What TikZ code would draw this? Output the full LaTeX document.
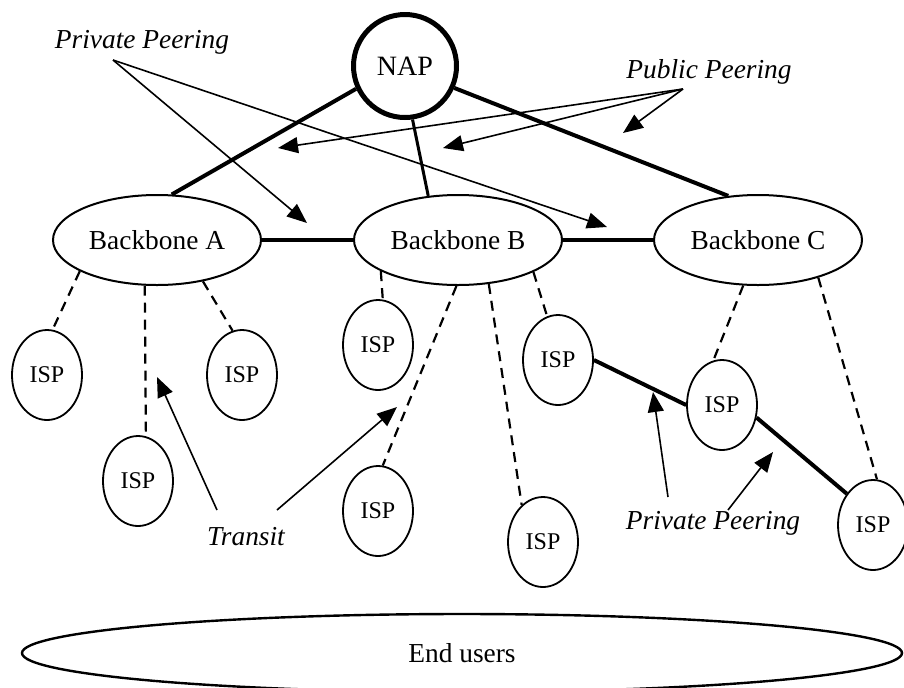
\documentclass[tikz,border=0pt]{standalone}
\usepackage{fontspec}
\setmainfont{Liberation Serif}
\usetikzlibrary{shapes.geometric, arrows.meta}
\tikzset{
    hub/.style={circle, draw=black, line width=2.5pt, minimum size=51.5pt, inner sep=0pt, font=\fontsize{14}{16}\selectfont},
    backbone/.style={ellipse, draw=black, line width=1pt, minimum width=104pt, minimum height=45pt, inner sep=0pt, font=\fontsize{13.7}{16}\selectfont},
    isp/.style={ellipse, draw=black, line width=0.9pt, minimum width=35pt, minimum height=45pt, inner sep=0pt, font=\fontsize{12}{14}\selectfont},
    users/.style={ellipse, draw=black, line width=1.2pt, minimum width=440pt, minimum height=39pt, inner sep=0pt, font=\fontsize{13.7}{16}\selectfont},
    tag/.style={inner sep=0pt, font=\fontsize{13.7}{16}\selectfont\itshape},
    trunk/.style={line width=2pt},
    access/.style={line width=1.1pt, dash pattern=on 5pt off 3.5pt},
    pointer/.style={line width=0.8pt, -{Triangle[length=10pt,width=8pt]}},
}
\begin{document}
\begin{tikzpicture}[x=0.5pt, y=-0.5pt]
  \useasboundingbox (0,0) rectangle (904,687);

  \node[hub]      (nap)  at (405,66)  {NAP};
  \node[backbone] (bbA)  at (157,240) {Backbone A};
  \node[backbone] (bbB)  at (458,240) {Backbone B};
  \node[backbone] (bbC)  at (758,240) {Backbone C};
  \node[isp]      (isp1) at (47,375)  {ISP};
  \node[isp]      (isp2) at (138,481) {ISP};
  \node[isp]      (isp3) at (242,375) {ISP};
  \node[isp]      (isp4) at (378,345) {ISP};
  \node[isp]      (isp5) at (378,511) {ISP};
  \node[isp]      (isp6) at (543,542) {ISP};
  \node[isp]      (isp7) at (558,360) {ISP};
  \node[isp]      (isp8) at (722,405) {ISP};
  \node[isp]      (isp9) at (873,525) {ISP};
  \node[users]    (users) at (462,653) {End users};

  \node[tag] (pp1)     at (142,42)  {Private Peering};
  \node[tag] (pub)     at (709,72)  {Public Peering};
  \node[tag] (transit) at (246,537) {Transit};
  \node[tag] (pp2)     at (713,523) {Private Peering};

  \draw[trunk] (nap.205) -- (bbA.72);
  \draw[trunk, line width=1.5pt] (nap.278) -- (bbB.124);
  \draw[trunk] (nap.336) -- (bbC.124);
  \draw[trunk] (bbA) -- (bbB);
  \draw[trunk] (bbB) -- (bbC);
  \draw[trunk] (isp7.east) -- (isp8.west);
  \draw[trunk] (isp8.340) -- (isp9.130);

  \draw[access] (bbA.202) -- (isp1.83);
  \draw[access] (bbA.255) -- (isp2.80);
  \draw[access] (bbA.318) -- (isp3.102);
  \draw[access] (bbB.202) -- (isp4.84);
  \draw[access] (bbB.268) -- (isp5.84);
  \draw[access] (bbB.305) -- (isp6.120);
  \draw[access] (bbB.337) -- (isp7.104);
  \draw[access] (bbC.252) -- (isp8.101);
  \draw[access] (bbC.328) -- (isp9.85);

  \coordinate (pp1s) at (113,60);
  \coordinate (pp1a) at (307,223);
  \coordinate (pp1b) at (607,227);
  \coordinate (pubs) at (683,89);
  \coordinate (puba) at (278,148);
  \coordinate (pubb) at (443,148);
  \coordinate (pubc) at (623,133);
  \coordinate (trsa) at (217,510);
  \coordinate (trsb) at (277,510);
  \coordinate (tra)  at (157,377);
  \coordinate (trb)  at (397,407);
  \coordinate (pp2sa) at (668,497);
  \coordinate (pp2sb) at (728,510);
  \coordinate (pp2a) at (653,392);
  \coordinate (pp2b) at (773,452);

  \draw[pointer] (pp1s) -- (pp1a);
  \draw[pointer] (pp1s) -- (pp1b);
  \draw[pointer] (pubs) -- (puba);
  \draw[pointer] (pubs) -- (pubb);
  \draw[pointer] (pubs) -- (pubc);
  \draw[pointer] (trsa) -- (tra);
  \draw[pointer] (trsb) -- (trb);
  \draw[pointer] (pp2sa) -- (pp2a);
  \draw[pointer] (pp2sb) -- (pp2b);
\end{tikzpicture}
\end{document}
